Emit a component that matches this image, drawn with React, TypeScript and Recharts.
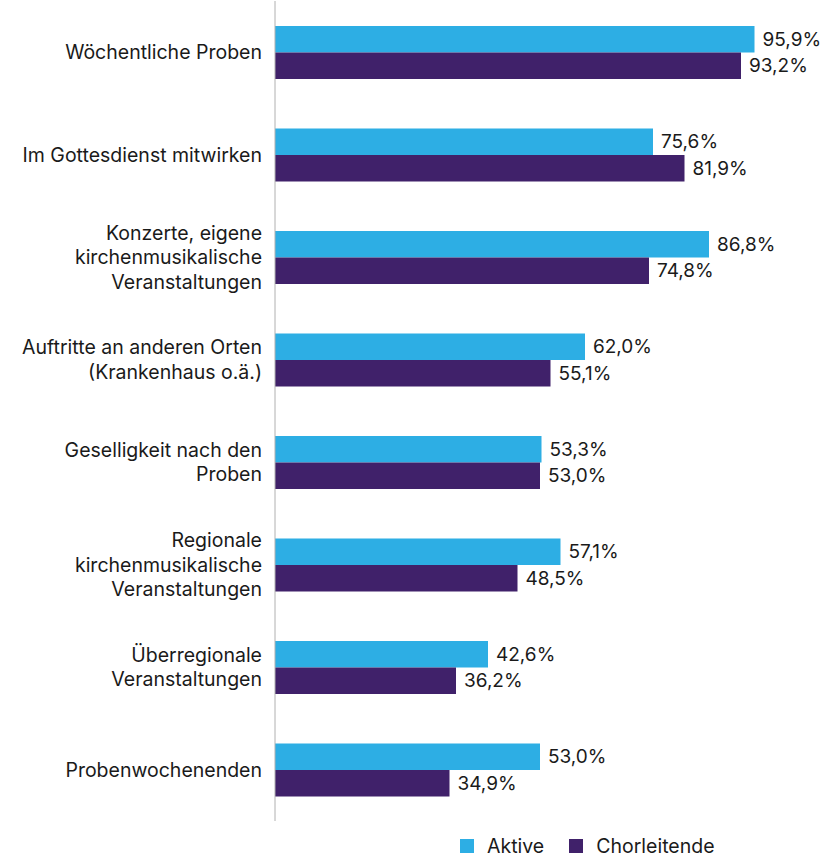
import { BarChart, Bar, XAxis, YAxis, LabelList } from 'recharts';

const categories = [
    'Wöchentliche Proben',
    'Im Gottesdienst mitwirken',
    'Konzerte, eigene\nkirchenmusikalische\nVeranstaltungen',
    'Auftritte an anderen Orten\n(Krankenhaus o.ä.)',
    'Geselligkeit nach den\nProben',
    'Regionale\nkirchenmusikalische\nVeranstaltungen',
    'Überregionale\nVeranstaltungen',
    'Probenwochenenden',
];
const aktive = [95.9, 75.6, 86.8, 62.0, 53.3, 57.1, 42.6, 53.0];
const chorleitende = [93.2, 81.9, 74.8, 55.1, 53.0, 48.5, 36.2, 34.9];

const BLUE = '#2daee4';
const PURPLE = '#40216a';

const data = categories.map((c, i) => ({ name: c, aktive: aktive[i], chorleitende: chorleitende[i] }));

const fmt = (v: any) => Number(v).toFixed(1).replace('.', ',') + '%';

function CategoryTick(props: any) {
    const { x, y, payload } = props;
    const lines = String(payload.value).split('\n');
    return (
        <text x={x} y={y} textAnchor="end" fill="#1a1a1a" fontSize={19.5}>
            {lines.map((l, i) => (
                <tspan key={i} x={x} y={y + (i - (lines.length - 1) / 2) * 24.5} dy="0.35em">{l}</tspan>
            ))}
        </text>
    );
}

function LegendBox() {
    const items = [
        { label: 'Aktive', color: BLUE },
        { label: 'Chorleitende', color: PURPLE },
    ];
    return (
        <div style={{ position: 'absolute', left: 460, top: 836, display: 'flex', gap: 25, fontSize: 19.5, color: '#1a1a1a', lineHeight: '20px' }}>
            {items.map((it) => (
                <div key={it.label} style={{ display: 'flex', alignItems: 'center', gap: 13 }}>
                    <span style={{ width: 14, height: 14, background: it.color, display: 'inline-block' }} />
                    <span>{it.label}</span>
                </div>
            ))}
        </div>
    );
}

export default function App() {
    return (
        <div style={{ position: 'absolute', left: 0, top: 0, width: 827, height: 857, fontFamily: 'Inter, sans-serif' }}>
            <BarChart
                width={827}
                height={857}
                data={data}
                layout="vertical"
                margin={{ top: 1, right: 52, bottom: 36, left: 0 }}
                barSize={26.5}
                barGap={0}
            >
                <XAxis type="number" domain={[0, 100]} hide />
                <YAxis
                    type="category"
                    dataKey="name"
                    width={275}
                    tickLine={false}
                    axisLine={{ stroke: '#b0b0b0' }}
                    tick={<CategoryTick />}
                    tickMargin={7}
                    interval={0}
                />
                <Bar dataKey="aktive" name="Aktive" fill={BLUE} isAnimationActive={false}>
                    <LabelList dataKey="aktive" position="right" offset={8} formatter={fmt} fill="#1a1a1a" fontSize={19} />
                </Bar>
                <Bar dataKey="chorleitende" name="Chorleitende" fill={PURPLE} isAnimationActive={false}>
                    <LabelList dataKey="chorleitende" position="right" offset={8} formatter={fmt} fill="#1a1a1a" fontSize={19} />
                </Bar>
            </BarChart>
            <LegendBox />
        </div>
    );
}
